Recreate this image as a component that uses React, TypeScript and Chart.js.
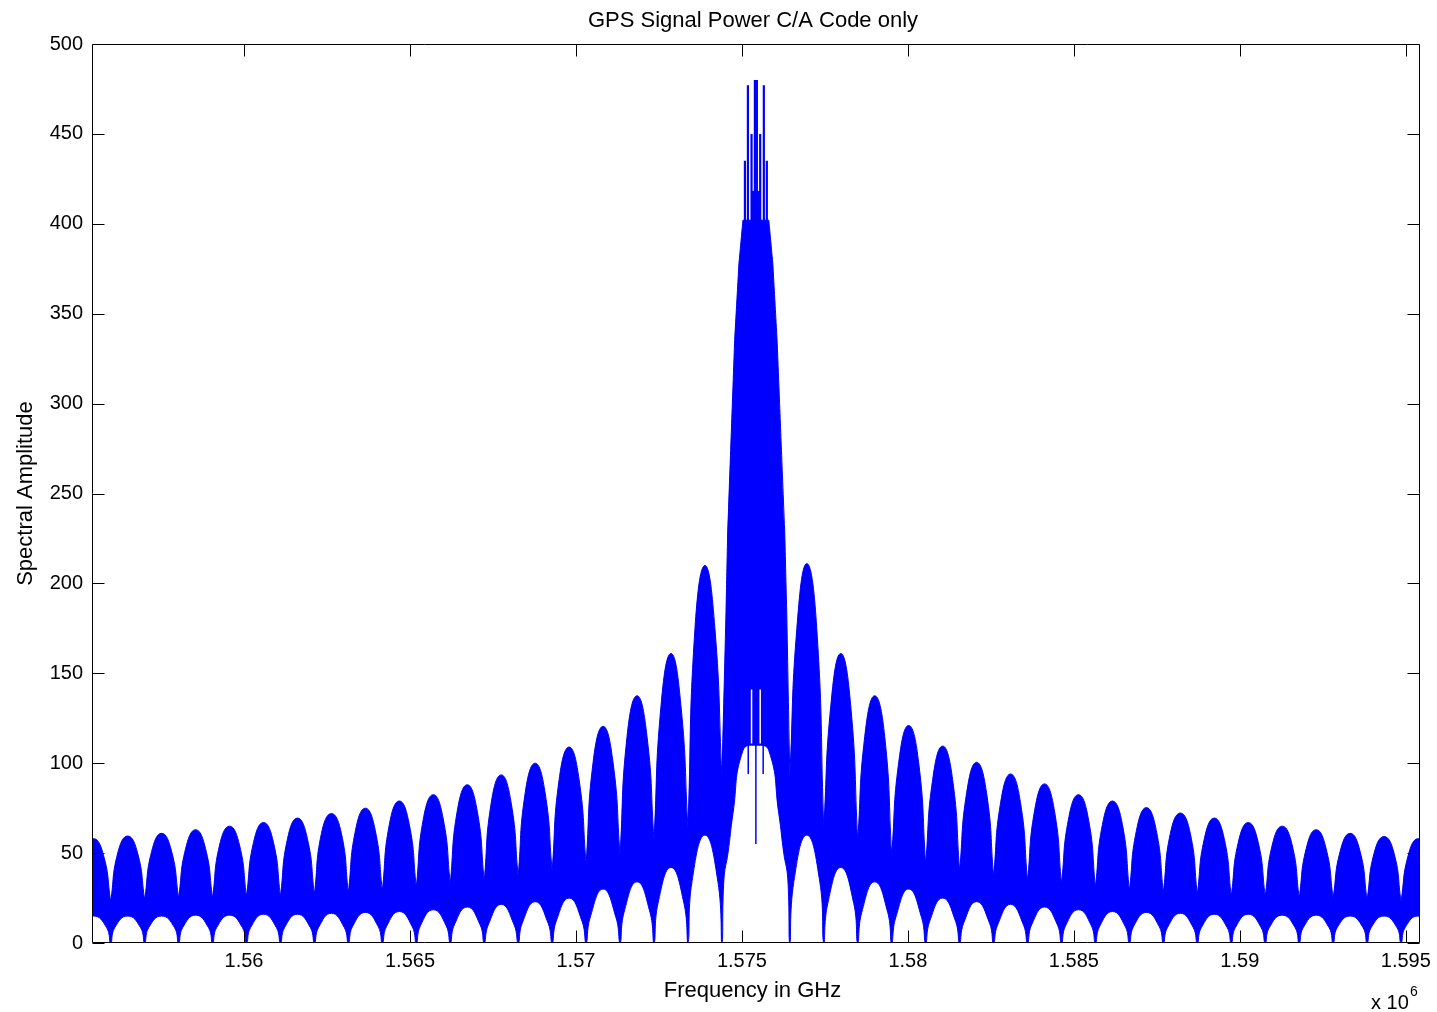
import React, { useEffect, useRef } from "react";
import { Chart, registerables } from "chart.js";

Chart.register(...registerables);

// ---------------- data ----------------
const CARRIER_MHZ = 1575.42;
const X_MIN_MHZ = 1555.42;
const X_MAX_MHZ = 1595.42;
const xTicksMHz = [1560, 1565, 1570, 1575, 1580, 1585, 1590, 1595];
const yTicks = [0, 50, 100, 150, 200, 250, 300, 350, 400, 450, 500];

// offsets of the spectral nulls from the carrier (MHz), m = 1..20
const nullOffsetMHz = [
  1.023, 2.046, 3.069, 4.092, 5.115, 6.138, 7.161, 8.184, 9.207, 10.23,
  11.253, 12.276, 13.299, 14.322, 15.345, 16.368, 17.391, 18.414, 19.437, 20.46,
];
// offsets of the side-lobe centres from the carrier (MHz), k = 1..19
const lobeCenterOffsetMHz = [
  1.5345, 2.5575, 3.5805, 4.6035, 5.6265, 6.6495, 7.6725, 8.6955, 9.7185, 10.7415,
  11.7645, 12.7875, 13.8105, 14.8335, 15.8565, 16.8795, 17.9025, 18.9255, 19.9485,
];
// peak amplitude of each side lobe, k = 1..19
const sidePeakLeft = [210, 161, 137.5, 120.5, 109, 100, 93.5, 88, 82.5, 79, 75, 72, 69.5, 67, 65, 63, 61, 59.5, 58];
const sidePeakRight = [211, 161, 137.5, 121, 109.5, 100.5, 94, 88.5, 82.5, 79, 75.3, 72.3, 69.5, 67, 65, 63, 61, 59.2, 58];
// amplitude of each side lobe's envelope 0.3 MHz either side of its centre, k = 1..19
const sideShoulder = [175, 132, 115, 100.5, 91, 83.5, 78, 73.5, 69, 66, 62.5, 61, 58, 56, 54.5, 52.5, 51, 50, 48.5];
const SHOULDER_OFFSET_MHZ = 0.3;
// top of the dense band at each null (bottom of the white notch), m = 1..20
const nullUpper = [92, 64, 57, 49, 44, 40, 37, 34.5, 33, 31, 29, 28, 27, 26, 26, 25, 25, 24, 23, 23];
// bottom of the dense band under each side lobe (top of the white arch), k = 1..19
const archTop = [60, 42, 34, 30, 25, 23, 21.5, 20, 18.5, 17.5, 17, 16.5, 16, 16, 15.5, 15.5, 15, 15, 15];
// bottom of the dense band just beside each null, k = 1..19
const archFoot = [34, 22, 17, 14, 12, 11, 10, 10, 9.5, 9, 9, 8.5, 8.5, 8.5, 8.5, 8.5, 8.5, 8.5, 8.5];
const ARCH_FOOT_OFFSET_MHZ = 0.12;
const NULL_FLOOR = 0;

// main lobe outline (corner points of its stepped edge)
const mainUpperOffsetMHz = [-0.9, -0.85, -0.64, -0.51, -0.45, -0.39, -0.13, -0.13, 0.13, 0.13, 0.39, 0.45, 0.51, 0.64, 0.87, 0.93];
const mainUpperValue = [184, 228, 335, 378, 390, 402, 402, 418, 418, 402, 402, 390, 378, 335, 228, 184];
const mainLowerOffsetMHz = [-0.96, -0.84, -0.69, -0.39, 0, 0.39, 0.69, 0.84, 0.96];
const mainLowerValue = [36, 50, 72, 107, 110, 107, 72, 50, 36];
// narrow spectral lines on top of the main lobe
const mainSpikeOffsetMHz = [-0.33, -0.24, -0.13, -0.03, 0.03, 0.13, 0.24, 0.33];
const mainSpikeTop = [435, 477, 450, 480, 480, 450, 477, 435];
const MAIN_SPIKE_BASE = 395;
// thin lines hanging into the white arch under the main lobe
const innerLineOffsetMHz = [-0.23, 0, 0.22];
const innerLineBottom = [94, 55, 94];
const INNER_LINE_BASE = 115;
// thin white slits in the main lobe body
const slitOffsetMHz = [-0.13, 0.13];
const slitBottom = [111, 111];
const slitTop = [141, 141];

type Pt = { x: number; y: number | null };

function buildUpper(): Pt[] {
  const pts: Pt[] = [];
  const n = lobeCenterOffsetMHz.length;
  for (let i = n - 1; i >= 0; i--) {
    const c = CARRIER_MHZ - lobeCenterOffsetMHz[i];
    pts.push({ x: CARRIER_MHZ - nullOffsetMHz[i + 1], y: nullUpper[i + 1] });
    pts.push({ x: c - SHOULDER_OFFSET_MHZ, y: sideShoulder[i] });
    pts.push({ x: c, y: sidePeakLeft[i] });
    pts.push({ x: c + SHOULDER_OFFSET_MHZ, y: sideShoulder[i] });
    pts.push({ x: CARRIER_MHZ - nullOffsetMHz[i], y: nullUpper[i] });
  }
  pts.push({ x: CARRIER_MHZ - nullOffsetMHz[0], y: nullUpper[0] });
  // corners are doubled so the stepped main-lobe edge is drawn straight
  mainUpperOffsetMHz.forEach((o, j) => {
    pts.push({ x: CARRIER_MHZ + o, y: mainUpperValue[j] });
    pts.push({ x: CARRIER_MHZ + o, y: mainUpperValue[j] });
  });
  pts.push({ x: CARRIER_MHZ + nullOffsetMHz[0], y: nullUpper[0] });
  for (let i = 0; i < n; i++) {
    const c = CARRIER_MHZ + lobeCenterOffsetMHz[i];
    pts.push({ x: CARRIER_MHZ + nullOffsetMHz[i], y: nullUpper[i] });
    pts.push({ x: c - SHOULDER_OFFSET_MHZ, y: sideShoulder[i] });
    pts.push({ x: c, y: sidePeakRight[i] });
    pts.push({ x: c + SHOULDER_OFFSET_MHZ, y: sideShoulder[i] });
    pts.push({ x: CARRIER_MHZ + nullOffsetMHz[i + 1], y: nullUpper[i + 1] });
  }
  return pts;
}

function buildLower(): Pt[] {
  const pts: Pt[] = [];
  const n = lobeCenterOffsetMHz.length;
  for (let i = n - 1; i >= 0; i--) {
    const outer = CARRIER_MHZ - nullOffsetMHz[i + 1];
    const inner = CARRIER_MHZ - nullOffsetMHz[i];
    pts.push({ x: outer, y: NULL_FLOOR });
    pts.push({ x: outer + ARCH_FOOT_OFFSET_MHZ, y: archFoot[i] });
    pts.push({ x: CARRIER_MHZ - lobeCenterOffsetMHz[i], y: archTop[i] });
    pts.push({ x: inner - ARCH_FOOT_OFFSET_MHZ, y: archFoot[i] });
  }
  pts.push({ x: CARRIER_MHZ - nullOffsetMHz[0], y: NULL_FLOOR });
  mainLowerOffsetMHz.forEach((o, j) => pts.push({ x: CARRIER_MHZ + o, y: mainLowerValue[j] }));
  pts.push({ x: CARRIER_MHZ + nullOffsetMHz[0], y: NULL_FLOOR });
  for (let i = 0; i < n; i++) {
    const inner = CARRIER_MHZ + nullOffsetMHz[i];
    const outer = CARRIER_MHZ + nullOffsetMHz[i + 1];
    pts.push({ x: inner + ARCH_FOOT_OFFSET_MHZ, y: archFoot[i] });
    pts.push({ x: CARRIER_MHZ + lobeCenterOffsetMHz[i], y: archTop[i] });
    pts.push({ x: outer - ARCH_FOOT_OFFSET_MHZ, y: archFoot[i] });
    pts.push({ x: outer, y: NULL_FLOOR });
  }
  return pts;
}

function buildSegments(offsets: number[], from: number[] | number, to: number[]): Pt[] {
  const pts: Pt[] = [];
  offsets.forEach((o, i) => {
    const a = Array.isArray(from) ? from[i] : from;
    pts.push({ x: CARRIER_MHZ + o, y: a });
    pts.push({ x: CARRIER_MHZ + o, y: to[i] });
    pts.push({ x: CARRIER_MHZ + o, y: null });
  });
  return pts;
}

const BLUE = "#0000ff";
const FONT = '"Liberation Sans", Arial, Helvetica, sans-serif';

const matlabFrame = {
  id: "matlabFrame",
  afterDraw(chart: any) {
    const ctx: CanvasRenderingContext2D = chart.ctx;
    const { left, right, top, bottom } = chart.chartArea;
    const xs = chart.scales.x;
    const ys = chart.scales.y;
    const L = Math.round(left) + 0.5;
    const R = Math.round(right) - 0.5;
    const T = Math.round(top) + 0.5;
    const B = Math.round(bottom) - 0.5;
    const TICK = 12;
    ctx.save();
    ctx.strokeStyle = "#000";
    ctx.lineWidth = 1;
    ctx.beginPath();
    ctx.rect(L, T, R - L, B - T);
    xTicksMHz.forEach((v) => {
      const px = Math.round(xs.getPixelForValue(v)) + 0.5;
      ctx.moveTo(px, B);
      ctx.lineTo(px, B - TICK);
      ctx.moveTo(px, T);
      ctx.lineTo(px, T + TICK);
    });
    yTicks.forEach((v) => {
      const py = Math.round(ys.getPixelForValue(v)) + 0.5;
      ctx.moveTo(L, py);
      ctx.lineTo(L + TICK, py);
      ctx.moveTo(R, py);
      ctx.lineTo(R - TICK, py);
    });
    ctx.stroke();

    ctx.fillStyle = "#000";
    ctx.textBaseline = "alphabetic";
    ctx.textAlign = "center";
    ctx.font = `22px ${FONT}`;
    ctx.fillText("GPS Signal Power C/A Code only", 753, 27);
    ctx.fillText("Frequency in GHz", 752.5, 997);

    ctx.save();
    ctx.translate(32, 493.5);
    ctx.rotate(-Math.PI / 2);
    ctx.fillText("Spectral Amplitude", 0, 0);
    ctx.restore();

    ctx.textAlign = "left";
    ctx.font = `20px ${FONT}`;
    ctx.fillText("x 10", 1371, 1009);
    ctx.font = `14px ${FONT}`;
    ctx.fillText("6", 1410, 996);
    ctx.restore();
  },
};

export default function App() {
  const canvasRef = useRef<HTMLCanvasElement | null>(null);

  useEffect(() => {
    const canvas = canvasRef.current;
    if (!canvas) return;
    const common = { pointRadius: 0, pointHoverRadius: 0, spanGaps: false };
    const chart = new Chart(canvas, {
      type: "line",
      data: {
        datasets: [
          {
            ...common,
            label: "upper",
            data: buildUpper() as any,
            borderColor: BLUE,
            backgroundColor: BLUE,
            borderWidth: 1,
            fill: "+1",
            tension: 0.5,
            order: 2,
          },
          {
            ...common,
            label: "lower",
            data: buildLower() as any,
            borderColor: BLUE,
            borderWidth: 1,
            fill: false,
            tension: 0.5,
            order: 2,
          },
          {
            ...common,
            label: "main lines",
            data: buildSegments(mainSpikeOffsetMHz, MAIN_SPIKE_BASE, mainSpikeTop) as any,
            borderColor: BLUE,
            borderWidth: 2.2,
            borderCapStyle: "butt",
            fill: false,
            tension: 0,
            order: 1,
          },
          {
            ...common,
            label: "inner lines",
            data: buildSegments(innerLineOffsetMHz, INNER_LINE_BASE, innerLineBottom) as any,
            borderColor: BLUE,
            borderWidth: 1.5,
            fill: false,
            tension: 0,
            order: 1,
          },
          {
            ...common,
            label: "slits",
            data: buildSegments(slitOffsetMHz, slitBottom, slitTop) as any,
            borderColor: "#ffffff",
            borderWidth: 1.5,
            fill: false,
            tension: 0,
            order: 0,
          },
        ],
      },
      options: {
        responsive: false,
        animation: false,
        devicePixelRatio: 1,
        events: [],
        layout: { padding: { top: 44, right: 17, left: 0, bottom: 0 } },
        plugins: {
          legend: { display: false },
          tooltip: { enabled: false },
          title: { display: false },
        },
        scales: {
          x: {
            type: "linear",
            min: X_MIN_MHZ,
            max: X_MAX_MHZ,
            grid: { display: false, drawTicks: false },
            border: { display: false },
            afterBuildTicks: (scale: any) => {
              scale.ticks = xTicksMHz.map((v) => ({ value: v }));
            },
            afterFit: (scale: any) => {
              scale.height = 69;
            },
            ticks: {
              autoSkip: false,
              maxRotation: 0,
              padding: 6,
              color: "#000",
              font: { family: FONT, size: 20 },
              callback: (v: any) => String(Number((Number(v) / 1000).toFixed(3))),
            },
          },
          y: {
            type: "linear",
            min: 0,
            max: 500,
            grid: { display: false, drawTicks: false },
            border: { display: false },
            afterBuildTicks: (scale: any) => {
              scale.ticks = yTicks.map((v) => ({ value: v }));
            },
            afterFit: (scale: any) => {
              scale.width = 92;
            },
            ticks: {
              autoSkip: false,
              padding: 9,
              color: "#000",
              font: { family: FONT, size: 20 },
              callback: (v: any) => String(v),
            },
          },
        },
      },
      plugins: [matlabFrame],
    });
    return () => chart.destroy();
  }, []);

  return (
    <div style={{ position: "absolute", left: 0, top: 0, width: 1437, height: 1012, background: "#fff" }}>
      <canvas ref={canvasRef} width={1437} height={1012} style={{ display: "block", width: 1437, height: 1012 }} />
    </div>
  );
}
